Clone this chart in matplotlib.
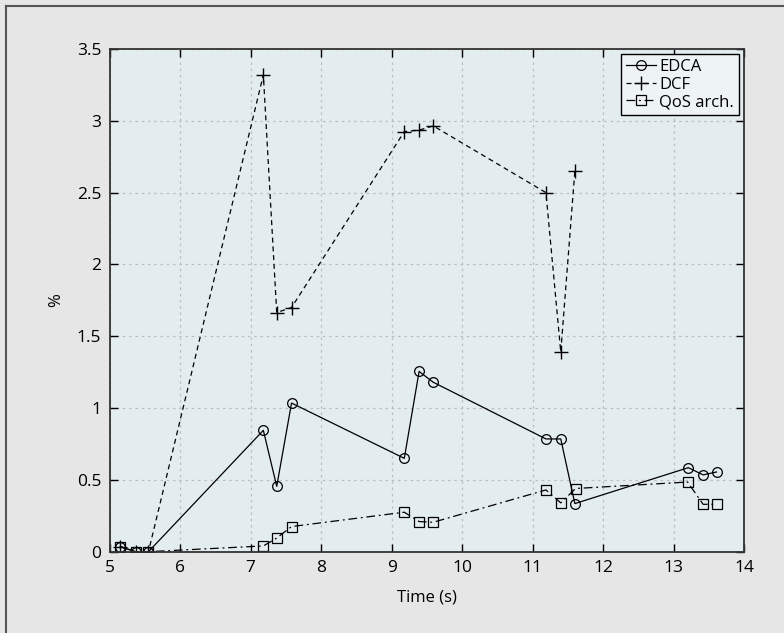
import matplotlib.pyplot as plt
from matplotlib.lines import Line2D

plt.rcParams['font.family'] = ['Open Sans', 'DejaVu Sans']

# Значення
time_edca = [5.15, 5.37, 5.55, 7.18, 7.37, 7.58, 9.18, 9.39, 9.59, 11.19, 11.40, 11.60, 13.21, 13.42, 13.61]
edca = [0.035, 0.0, 0.0, 0.845, 0.455, 1.035, 0.65, 1.255, 1.18, 0.785, 0.785, 0.335, 0.585, 0.535, 0.555]

time_dcf = [5.15, 5.37, 5.55, 7.18, 7.37, 7.58, 9.18, 9.39, 9.59, 11.19, 11.40, 11.60]
dcf = [0.035, 0.0, 0.0, 3.32, 1.665, 1.70, 2.925, 2.935, 2.965, 2.50, 1.39, 2.65]

time_qos = [5.15, 5.37, 5.55, 7.18, 7.37, 7.58, 9.18, 9.39, 9.59, 11.19, 11.40, 11.61, 13.20, 13.42, 13.61]
qos = [0.035, 0.0, 0.0, 0.04, 0.095, 0.175, 0.275, 0.21, 0.205, 0.43, 0.34, 0.44, 0.485, 0.33, 0.33]

x_ticks = list(range(5, 15))
y_ticks = [0, 0.5, 1, 1.5, 2, 2.5, 3, 3.5]
y_labels = ['0', '0.5', '1', '1.5', '2', '2.5', '3', '3.5']

fig = plt.figure(figsize=(7.84, 6.33), dpi=100, facecolor='#e6e6e6')
ax = fig.add_axes([109.7 / 784, 1 - 551.7 / 633, (744 - 109.7) / 784, (551.7 - 49) / 633])
ax.set_facecolor('#e3ecef')

# Рамка фігури (видно лише ліворуч і згори)
fig.add_artist(Line2D([6 / 784, 6 / 784], [0, 1 - 6 / 633], transform=fig.transFigure, color='#555555', lw=1.5))
fig.add_artist(Line2D([6 / 784, 1], [1 - 6 / 633, 1 - 6 / 633], transform=fig.transFigure, color='#555555', lw=1.5))

ax.plot(time_edca, edca, '-', color='black', lw=0.9, marker='o', ms=7,
        mfc='none', mec='black', mew=0.9, label='EDCA')
ax.plot(time_dcf, dcf, '--', color='black', lw=0.9, marker='+', ms=9.5,
        mew=1.0, label='DCF', dashes=(4, 3))
ax.plot(time_qos, qos, '-.', color='black', lw=0.9, marker='s', ms=7,
        mfc='none', mec='black', mew=0.9, label='QoS arch.', dashes=(7, 3, 1.5, 3))

ax.set_xlim(5, 14)
ax.set_ylim(0, 3.5)
ax.set_xticks(x_ticks)
ax.set_yticks(y_ticks)
ax.set_yticklabels(y_labels)
ax.tick_params(direction='in', top=True, right=True, length=6, width=1, labelsize=12.5, pad=6)
ax.grid(True, linestyle=(0, (2, 3)), color='#bdbdbd', lw=0.9)
for s in ax.spines.values():
    s.set_color('#333333')
    s.set_linewidth(1.3)

ax.set_xlabel('Time (s)', fontsize=12)
ax.set_ylabel('%', fontsize=12)
ax.xaxis.set_label_coords(0.5, -0.075)
ax.yaxis.set_label_coords(-0.072, 0.5)

leg = ax.legend(loc='upper right', fontsize=12, handlelength=1.8, handletextpad=0.2,
                borderpad=0.3, labelspacing=0.1, fancybox=False, framealpha=1,
                facecolor='#eef3f5', edgecolor='black', borderaxespad=0.3)
leg.get_frame().set_linewidth(1.0)

fig.savefig('out.png', dpi=100, facecolor=fig.get_facecolor())
